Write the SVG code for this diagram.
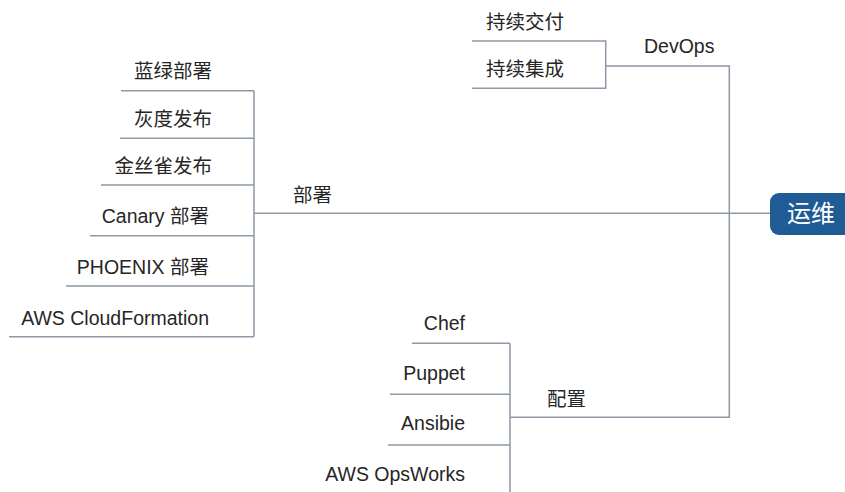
<svg xmlns="http://www.w3.org/2000/svg" width="845" height="492" viewBox="0 0 845 492">
<style>
.ln{stroke:#8d99a5;stroke-width:1.5;fill:none}
.t{font-family:"Liberation Sans","Noto Sans CJK SC",sans-serif;font-size:19.5px;fill:#262626}
.r{text-anchor:end}
.root{fill:#1f5c96}
.rt{font-family:"Liberation Sans","Noto Sans CJK SC",sans-serif;font-size:24px;fill:#ffffff}
</style>
<rect width="845" height="492" fill="#ffffff"/>
<g id="connectors">
<polyline class="ln" points="121,90.7 254,90.7"/>
<polyline class="ln" points="120,138.3 254,138.3"/>
<polyline class="ln" points="101,185 254,185"/>
<polyline class="ln" points="90,235.7 254,235.7"/>
<polyline class="ln" points="66,286 254,286"/>
<polyline class="ln" points="9,336.7 254,336.7"/>
<polyline class="ln" points="254,90.7 254,336.7"/>
<polyline class="ln" points="254,213.3 770,213.3"/>
<polyline class="ln" points="472,41 605.7,41 605.7,88.3 472,88.3"/>
<polyline class="ln" points="605.7,66 729.3,66 729.3,417.3 510,417.3"/>
<polyline class="ln" points="412,343.3 510,343.3"/>
<polyline class="ln" points="390,394.3 510,394.3"/>
<polyline class="ln" points="388,445 510,445"/>
<polyline class="ln" points="510,343.3 510,492"/>
</g>
<g id="root">
<rect class="root" x="770" y="193" width="90" height="42" rx="9"/>
<text class="rt" x="787" y="222">运维</text>
</g>
<g id="deploy">
<text class="t" x="293" y="202">部署</text>
</g>
<g id="n-bluegreen"><text class="t r" x="212" y="78">蓝绿部署</text></g>
<g id="n-gray"><text class="t r" x="212" y="126">灰度发布</text></g>
<g id="n-canary-cn"><text class="t r" x="212" y="173">金丝雀发布</text></g>
<g id="n-canary"><text class="t r" x="209" y="223">Canary 部署</text></g>
<g id="n-phoenix"><text class="t r" x="209" y="274">PHOENIX 部署</text></g>
<g id="n-cfn"><text class="t r" x="209" y="325">AWS CloudFormation</text></g>
<g id="devops"><text class="t" x="644" y="53">DevOps</text></g>
<g id="n-cd"><text class="t" x="486" y="29">持续交付</text></g>
<g id="n-ci"><text class="t" x="486" y="76">持续集成</text></g>
<g id="config"><text class="t" x="547" y="406">配置</text></g>
<g id="n-chef"><text class="t r" x="465" y="330">Chef</text></g>
<g id="n-puppet"><text class="t r" x="465" y="380">Puppet</text></g>
<g id="n-ansible"><text class="t r" x="465" y="430">Ansibie</text></g>
<g id="n-opsworks"><text class="t r" x="465" y="481">AWS OpsWorks</text></g>
</svg>
